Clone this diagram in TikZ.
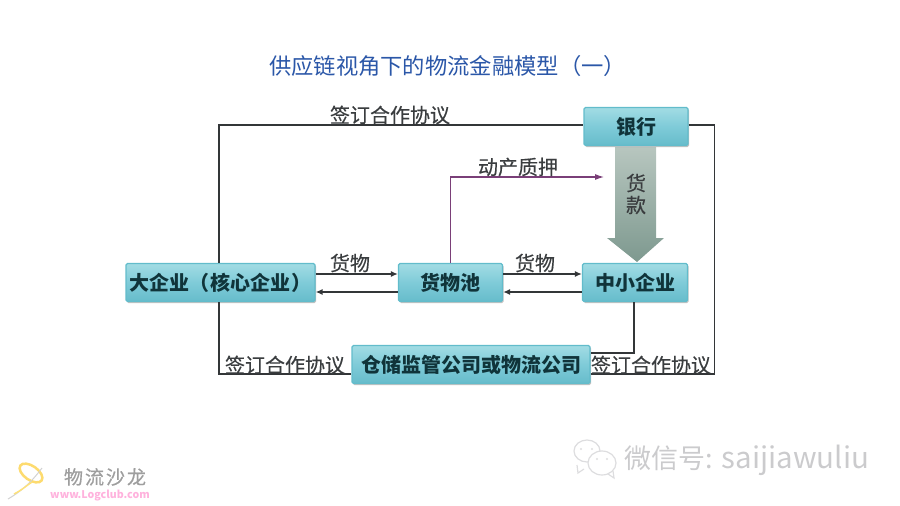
\documentclass[tikz,border=0pt]{standalone}
\usepackage{fontspec}
\setmainfont{Noto Sans CJK SC}
\newfontfamily\medcjk{Noto Sans CJK SC}[FakeBold=0.35]
\newfontfamily\serifcjk{Noto Sans CJK SC}[FakeBold=0.6]
\usetikzlibrary{shadows,arrows.meta,calc}
\definecolor{boxedge}{HTML}{62BCCB}
\definecolor{boxtop}{HTML}{A2DCE4}
\definecolor{boxmid}{HTML}{7FCBD8}
\definecolor{boxbot}{HTML}{66BCCB}
\definecolor{linecol}{HTML}{333638}
\definecolor{pledge}{HTML}{7A3F78}
\definecolor{titleblue}{HTML}{2B57A8}
\definecolor{lbl}{HTML}{3A3D3F}
\definecolor{boxtxt}{HTML}{10343A}
\definecolor{arrowtop}{HTML}{B7C6BF}
\definecolor{arrowbot}{HTML}{7E998F}
\definecolor{wm}{HTML}{DDDDDF}
\newcommand{\boxlabel}[1]{\raisebox{1.5pt}{#1}}
\tikzset{
  orgbox/.style={draw=boxedge,line width=1.2pt,rounded corners=1.5pt,
    top color=boxtop,bottom color=boxbot,middle color=boxmid,
    drop shadow={shadow xshift=1pt,shadow yshift=-1.5pt,fill=black!40,opacity=.6},
    inner sep=0pt,text=boxtxt,font=\fontsize{20}{20}\selectfont\bfseries},
  lab/.style={inner sep=0pt,text=lbl,font=\fontsize{20}{20}\selectfont\medcjk},
  conn/.style={draw=linecol,line width=1.5pt},
  flow/.style={conn,-{Latex[length=7pt,width=6pt]}},
  x=1pt,y=-1pt
}
\begin{document}
\begin{tikzpicture}
\useasboundingbox (0,0) rectangle (900,506);
\node[inner sep=0pt,text=titleblue,font=\fontsize{22.3}{23}\selectfont] (title) at (447.5,66) {供应链视角下的物流金融模型（一）};

% big arrow
\path[top color=arrowtop,bottom color=arrowbot,draw=none]
  (615,147) -- (656,147) -- (656,238) -- (664,238) -- (637,262) -- (607,238) -- (615,238) -- cycle;

\node[orgbox,minimum width=189pt,minimum height=38pt] (big) at (220.5,282.5) {\boxlabel{大企业（\hspace{1pt}核心企业\hspace{1pt}）}};
\node[orgbox,minimum width=104pt,minimum height=38pt] (pool) at (450.5,282.5) {\boxlabel{货物池}};
\node[orgbox,minimum width=105pt,minimum height=38pt] (sme) at (635,282.5) {\boxlabel{中小企业}};
\node[orgbox,minimum width=104pt,minimum height=38pt] (bank) at (636,126.5) {\boxlabel{银行}};
\node[orgbox,minimum width=238pt,minimum height=38pt] (wh) at (471,364.5) {\boxlabel{仓储监管公司或物流公司}};

\coordinate (pledgeEnd) at (604,177);
\draw[conn] ([xshift=-1.5pt]big.north) |- ([yshift=1.5pt]bank.west);
\draw[conn] ([xshift=-1.5pt]big.south) |- ([yshift=-9.5pt]wh.west);
\draw[conn] ([yshift=1.5pt]bank.east) -- ++(26,0) |- ([yshift=-9.5pt]wh.east);
\draw[conn] ([xshift=-1pt]sme.south) |- ([yshift=11.5pt]wh.east);
\draw[draw=pledge,line width=1.1pt,-{Latex[length=9pt,width=6pt]}] (pool.north) |- (pledgeEnd);
\draw[flow] ([yshift=8.5pt]big.east) -- ([yshift=8.5pt]pool.west);
\draw[flow] ([yshift=-9.5pt]pool.west) -- ([yshift=-9.5pt]big.east);
\draw[flow] ([yshift=8.5pt]pool.east) -- ([yshift=8.5pt]sme.west);
\draw[flow] ([yshift=-9.5pt]sme.west) -- ([yshift=-9.5pt]pool.east);

\node[lab] (l1) at (390,115) {签订合作协议};
\node[lab] (l2) at (285,365) {签订合作协议};
\node[lab] (l3) at (651,365) {签订合作协议};
\node[lab] (l4) at (518,167) {动产质押};
\node[lab] (l5) at (350,263) {货物};
\node[lab] (l6) at (535,263) {货物};
\node[lab] (l7) at (636,183) {货};
\node[lab] (l8) at (636,205) {款};

% logo watermark
\draw[draw=yellow!55!orange!55,line width=2.5pt,rotate around={-35:(31,473)}] (31,473) ellipse (13 and 7);
\draw[draw=gray!35,line width=1pt] (8,499) .. controls (20,492) and (30,484) .. (42,468);
\draw[draw=yellow!60!orange!50,line width=1.5pt] (14,494) .. controls (22,490) and (26,486) .. (32,482);
\node[inner sep=0pt,text=black!38,font=\fontsize{19}{20}\selectfont\serifcjk] (wmname) at (105,477) {物\hspace{2pt}流\hspace{2pt}沙\hspace{2pt}龙};
\node[inner sep=0pt,text=red!45!magenta!30,font=\fontsize{10.6}{12}\selectfont\bfseries] (wmurl) at (100,496) {www.Logclub.com};

% WeChat watermark
\draw[draw=wm,line width=1.2pt,fill=white] (587,451) ellipse (13 and 11);
\draw[draw=wm,line width=1.2pt,fill=white] (602,463) ellipse (14 and 12);
\draw[draw=wm,line width=1.2pt] (584,469) -- (578,473) -- (577,465);
\draw[draw=wm,line width=1.2pt] (608,474) -- (614,478) -- (613,471);
\fill[wm] (581,449) circle (1.2) (592,449) circle (1.2) (597,459) circle (1.2) (607,459) circle (1.2);
\node[inner sep=0pt,anchor=west,text=wm!92!black,font=\fontsize{27}{28}\selectfont] (wmid) at (624,460) {微信号:\hspace{9pt}{\fontsize{29.5}{28}\selectfont saijiawuliu}};
\end{tikzpicture}
\end{document}
